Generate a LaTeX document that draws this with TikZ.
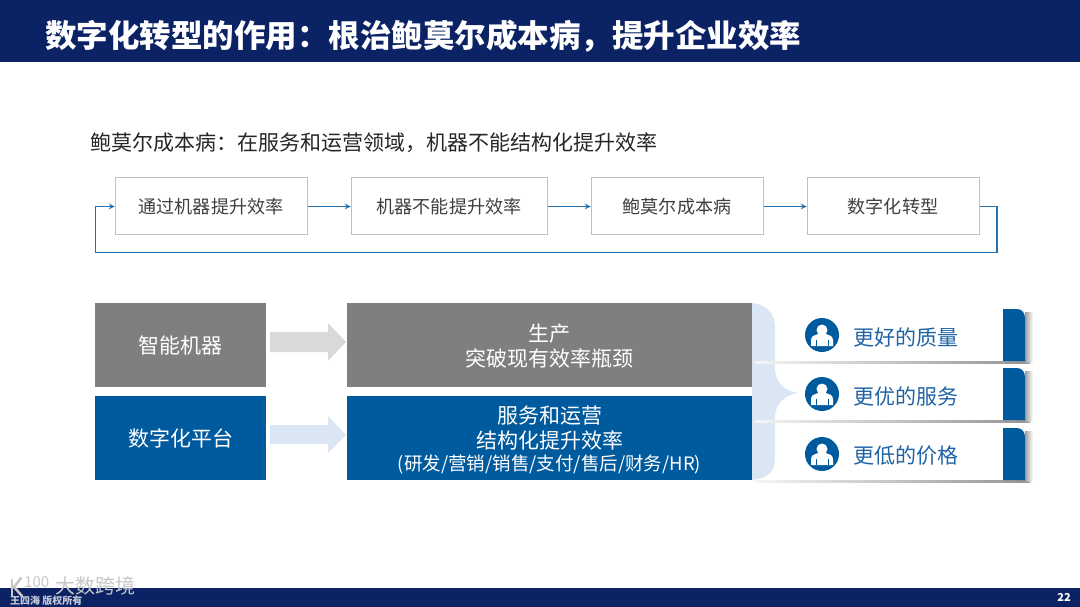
\documentclass[tikz,border=0pt]{standalone}
\usepackage{xcolor}
\usepackage{fontspec}
\setmainfont{Noto Sans CJK SC}
\usetikzlibrary{calc}

\definecolor{navybar}{HTML}{0B2265}
\definecolor{mainblue}{HTML}{005A9E}
\definecolor{flowblue}{HTML}{2272B4}
\definecolor{maingray}{HTML}{7F7F7F}
\definecolor{paleblue}{HTML}{DAE6F3}
\definecolor{palegray}{HTML}{D9D9D9}
\definecolor{cardtext}{HTML}{1F63A5}

\tikzset{
    flowbox/.style={draw=black!25, line width=1pt, fill=white, minimum height=57pt, text=black!75, font=\fontsize{18.1}{22}\selectfont},
    flowline/.style={draw=flowblue, line width=1.5pt, ->, >=stealth},
    solidbox/.style={minimum height=84pt, text=white, align=center, font=\fontsize{21}{25}\selectfont},
    cardlabel/.style={text=cardtext, font=\fontsize{21}{25}\selectfont, anchor=west, inner sep=0pt},
    cardtab/.style={fill=mainblue},
    cardline/.style={left color=black!4, right color=black!42, draw=none},
    tabshadow/.style={left color=black!38, right color=white, draw=none},
    personicon/.pic={
        \fill[mainblue] (0,0) circle (17);
        \fill[white] (0,-5) circle (5.5);
        \fill[white] (-11,11) -- (-11,5) .. controls (-11,1) and (-7,0) .. (-4,-1) -- (4,-1) .. controls (7,0) and (11,1) .. (11,5) -- (11,11) -- cycle;
        \draw[mainblue, line width=0.7pt] (-6,11) -- (-6,5) (6,11) -- (6,5);
    }
}

\begin{document}
\begin{tikzpicture}[x=1pt, y=-1pt]
\useasboundingbox (0,0) rectangle (1080,607);

% bars
\fill[navybar] (0,0) rectangle (1080,62);
\fill[navybar] (0,588) rectangle (1080,607);
\node[anchor=west, inner sep=0pt, text=white, font=\fontsize{31.5}{36}\selectfont\bfseries] (title) at (45,36) {数字化转型的作用：根治鲍莫尔成本病，提升企业效率};
\node[anchor=east, inner sep=0pt, text=white, font=\fontsize{11}{13}\selectfont\bfseries] (pagenum) at (1071,597) {22};

\node[anchor=west, inner sep=0pt, text=black!85, font=\fontsize{21}{25}\selectfont] (subtitle) at (90,143) {鲍莫尔成本病：在服务和运营领域，机器不能结构化提升效率};

% flow row
\node[flowbox, minimum width=192pt] (machine) at (211,206.5) {通过机器提升效率};
\node[flowbox, minimum width=196pt] (nomachine) at (449,206.5) {机器不能提升效率};
\node[flowbox, minimum width=172pt] (baumol) at (677,206.5) {鲍莫尔成本病};
\node[flowbox, minimum width=172pt] (digital) at (893,206.5) {数字化转型};

\coordinate (loopr) at (997,252.5);
\coordinate (loopl) at (95.5,252.5);

\draw[flowline] (machine) -- (nomachine);
\draw[flowline] (nomachine) -- (baumol);
\draw[flowline] (baumol) -- (digital);
\draw[flowline] (digital.east) -- (digital.east -| loopr) -- (loopr) -- (loopl) -- (loopl |- machine.west) -- (machine.west);

% arrows between the solid boxes
\fill[palegray] (270,332) -- (328,332) -- (328,323) -- (346,342) -- (328,361) -- (328,352) -- (270,352) -- cycle;
\fill[paleblue] (270,425) -- (328,425) -- (328,416) -- (346,435) -- (328,453) -- (328,444) -- (270,444) -- cycle;

% brace
\fill[paleblue] (752,303) .. controls (768,305) and (775,314) .. (775,328) -- (775,368) .. controls (775,382) and (784,391) .. (798,393) .. controls (784,395) and (775,404) .. (775,418) -- (775,458) .. controls (775,472) and (768,478) .. (752,480) -- cycle;

% solid boxes
\node[solidbox, fill=maingray, minimum width=171pt] (robot) at (180.5,345) {智能机器};
\node[solidbox, fill=mainblue, minimum width=171pt] (platform) at (180.5,438) {数字化平台};
\node[solidbox, fill=maingray, minimum width=405pt] (production) at (549.5,345) {\rule{0pt}{20.5pt}生产\\突破现有效率瓶颈};
\node[solidbox, fill=mainblue, minimum width=405pt] (operation) at (549.5,438) {\rule{0pt}{21.5pt}服务和运营\\结构化提升效率\\[-3pt]{\fontsize{18.5}{21}\selectfont (研发/营销/销售/支付/售后/财务/HR)}};

% cards
\fill[cardline] (755,361) rectangle (1030,363);
\fill[cardline] (755,420) rectangle (1030,422);
\fill[cardline] (755,480) rectangle (1030,482);

\fill[tabshadow] (1025,312) rectangle (1033,362);
\fill[tabshadow] (1025,371) rectangle (1033,421);
\fill[tabshadow] (1025,431) rectangle (1033,481);
\fill[cardtab] (1003,361) -- (1003,309) -- (1017,309) .. controls (1022,309) and (1025,313) .. (1025,318) -- (1025,361) -- cycle;
\fill[cardtab] (1003,420) -- (1003,368) -- (1017,368) .. controls (1022,368) and (1025,372) .. (1025,377) -- (1025,420) -- cycle;
\fill[cardtab] (1003,480) -- (1003,428) -- (1017,428) .. controls (1022,428) and (1025,432) .. (1025,437) -- (1025,480) -- cycle;

\pic at (822,335) {personicon};
\pic at (822,394) {personicon};
\pic at (822,454) {personicon};

\node[cardlabel] (quality) at (853,337) {更好的质量};
\node[cardlabel] (service) at (853,396) {更优的服务};
\node[cardlabel] (price) at (853,456) {更低的价格};

% watermark
\draw[black!22, line width=2.5pt, line cap=round, line join=round] (21,578) -- (14,587) -- (22,596);
\draw[black!22, line width=2.5pt, line cap=round] (12,580) -- (12,596);
\node[anchor=west, inner sep=0pt, text=black!22, font=\fontsize{20}{24}\selectfont] (wmark) at (55,586) {大数跨境};
\node[anchor=west, inner sep=0pt, text=black!22, font=\fontsize{15}{18}\selectfont] (wlogo) at (24,582) {100};
\node[anchor=west, inner sep=0pt, text=white!75!navybar, font=\fontsize{10}{12}\selectfont\bfseries] (wowner) at (10,601) {王四海 版权所有};

\end{tikzpicture}
\end{document}
